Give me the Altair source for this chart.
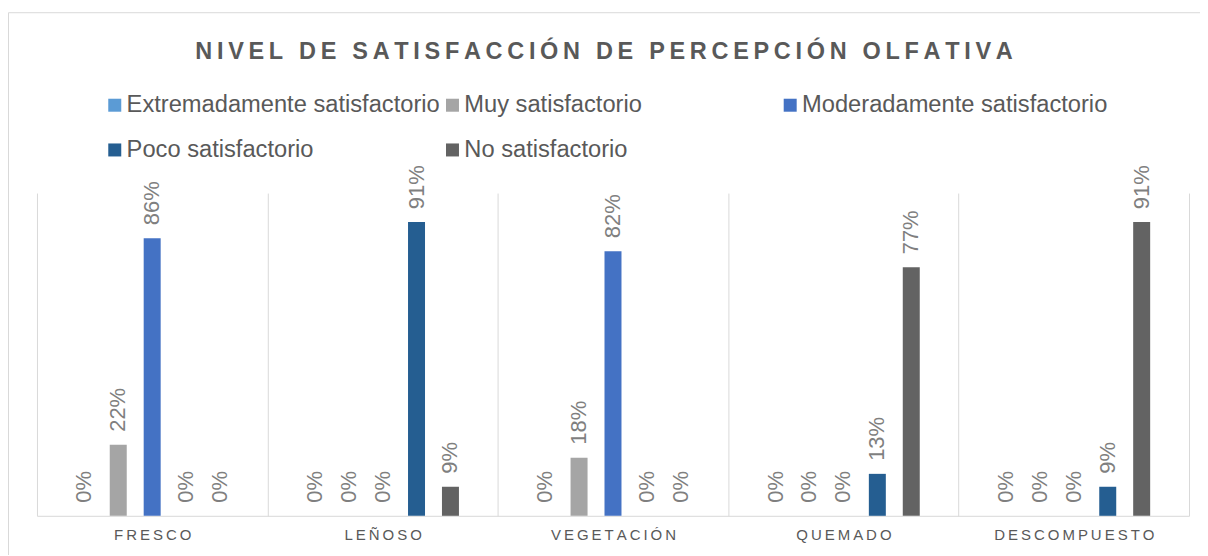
import altair as alt
import pandas as pd

# ---- data ----
categorias = ["FRESCO", "LEÑOSO", "VEGETACIÓN", "QUEMADO", "DESCOMPUESTO"]
series = [
    "Extremadamente satisfactorio",
    "Muy satisfactorio",
    "Moderadamente satisfactorio",
    "Poco satisfactorio",
    "No satisfactorio",
]
extremadamente = [0.00, 0.00, 0.00, 0.00, 0.00]
muy = [0.22, 0.00, 0.18, 0.00, 0.00]
moderadamente = [0.86, 0.00, 0.82, 0.00, 0.00]
poco = [0.00, 0.91, 0.00, 0.13, 0.09]
no_satisfactorio = [0.00, 0.09, 0.00, 0.77, 0.91]
colores = ["#5B9BD5", "#A5A5A5", "#4472C4", "#255E91", "#636363"]
titulo = "NIVEL DE SATISFACCIÓN DE PERCEPCIÓN OLFATIVA"

rows = []
for s, vals in zip(series, [extremadamente, muy, moderadamente, poco, no_satisfactorio]):
    for c, v in zip(categorias, vals):
        rows.append({"categoria": c, "serie": s, "valor": v})
df = pd.DataFrame(rows)

FONT = "Liberation Sans"
W, H = 1153, 323
THIN = "\u2009"

x = alt.X(
    "categoria:N",
    sort=categorias,
    scale=alt.Scale(paddingInner=0, paddingOuter=0),
    axis=alt.Axis(
        title=None,
        tickBand="extent",
        grid=True,
        gridColor="#d9d9d9",
        gridWidth=1,
        ticks=False,
        domainColor="#d9d9d9",
        domainWidth=1,
        labelAngle=0,
        labelFont=FONT,
        labelFontSize=15,
        labelColor="#595959",
        labelPadding=12,
        labelExpr="join(split(datum.label, ''), '" + THIN + "')",
    ),
)
xo = alt.XOffset("serie:N", sort=series, scale=alt.Scale(paddingInner=0.21, paddingOuter=1))
y = alt.Y("valor:Q", scale=alt.Scale(domain=[0, 1]), axis=None)

bars = alt.Chart(df).mark_bar(width=17).encode(
    x=x,
    xOffset=xo,
    y=y,
    color=alt.Color(
        "serie:N",
        sort=series,
        scale=alt.Scale(domain=series, range=colores),
        legend=alt.Legend(
            title=None,
            orient="none",
            legendX=66,
            legendY=-100,
            direction="horizontal",
            columns=3,
            gridAlign="all",
            symbolType="square",
            symbolSize=169,
            symbolStrokeWidth=0,
            labelFont=FONT,
            labelFontSize=23.7,
            labelColor="#595959",
            labelOffset=0,
            labelLimit=600,
            columnPadding=0,
            rowPadding=20,
            padding=0,
        ),
    ),
)

labels = alt.Chart(df).mark_text(
    angle=270,
    align="left",
    baseline="middle",
    dx=13,
    font=FONT,
    fontSize=22,
    color="#7f7f7f",
).encode(
    x=x,
    xOffset=xo,
    y=y,
    text=alt.Text("valor:Q", format=".0%"),
)

frame = alt.Chart(pd.DataFrame({"f": [0]})).mark_rect(
    fillOpacity=0, stroke="#d9d9d9", strokeWidth=1
).encode(
    x=alt.value(-28.5), x2=alt.value(W + 60), y=alt.value(-180.5), y2=alt.value(H + 80)
)

chart = (
    alt.layer(frame, bars, labels)
    .properties(
        width=W,
        height=H,
        autosize=alt.AutoSizeParams(type="none"),
        padding={"left": 29, "top": 185, "right": 11, "bottom": 39},
        title=alt.TitleParams(
            text=THIN.join(titulo),
            font=FONT,
            fontSize=23.5,
            fontWeight="bold",
            color="#595959",
            anchor="middle",
            baseline="alphabetic",
            offset=-70.5,
            dx=-9,
        ),
    )
    .configure_view(stroke=None)
)

chart.save("out.html", embed_options={"renderer": "svg", "actions": False})
